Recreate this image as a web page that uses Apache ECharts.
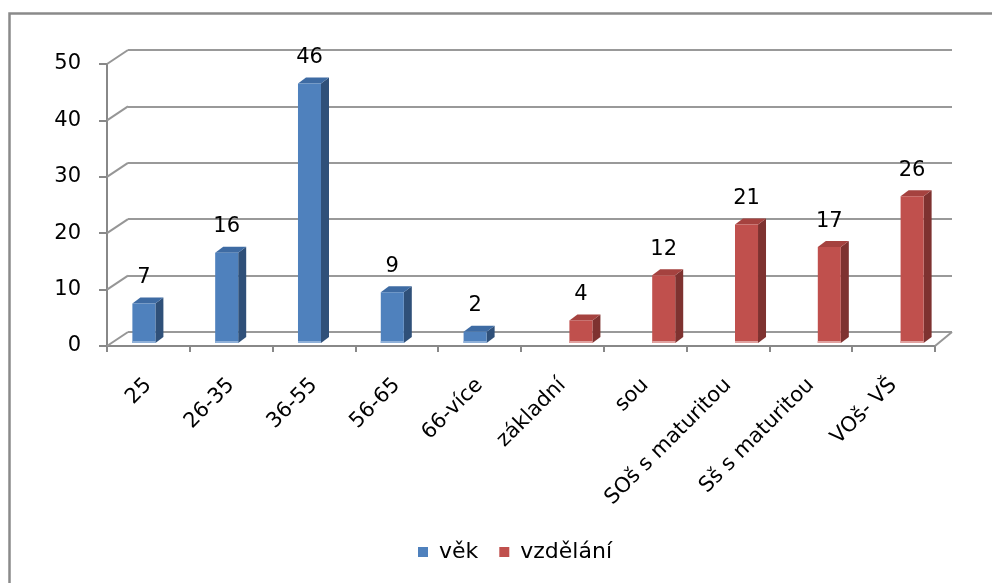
<!DOCTYPE html>
<html>
<head>
<meta charset="utf-8">
<script src="https://cdn.jsdelivr.net/npm/echarts@6/dist/echarts.min.js"></script>
<style>
  html, body { margin: 0; padding: 0; background: #fff; }
  #chart { width: 992px; height: 583px; }
</style>
</head>
<body>
<div id="chart"></div>
<script>
// Categories and values
const categories = ['25', '26-35', '36-55', '56-65', '66-více', 'základní', 'sou', 'SOš s maturitou', 'Sš s maturitou', 'VOš- VŠ'];
const vekValues = [7, 16, 46, 9, 2, null, null, null, null, null];
const vzdelaniValues = [null, null, null, null, null, 4, 12, 21, 17, 26];
const yTicks = [0, 10, 20, 30, 40, 50];
const seriesNames = ['věk', 'vzdělání'];

const FONT = '"DejaVu Sans", sans-serif';
const GRID_FRONT = { left: 107, right: 57, top: 64, bottom: 237 };
const GRID_BARS  = { left: 114, right: 50, top: 61, bottom: 240 };
const GRID_BACK  = { left: 128, right: 40, top: 50, bottom: 251 };
const DEPTH = { dx: 8, dy: -6 };          // column thickness
const BAR_RATIO = 0.278;                  // column width / category band

const palettes = [
  { front: '#4F81BD', top: '#3E6BA3', side: '#2F5079', edge: '#8FB0D8' },
  { front: '#C0504D', top: '#A5423F', side: '#7E3230', edge: '#E0A2A0' }
];

function makeColumnRenderer(slot) {
  const pal = palettes[slot];
  return function (params, api) {
    const v = api.value(1);
    if (v == null || isNaN(v)) return null;
    const cat = api.value(0);
    const band = api.size([1, 0])[0];
    const w = band * BAR_RATIO;
    const center = api.coord([cat, 0]);
    const topPt = api.coord([cat, v]);
    const xl = center[0] - w + slot * w;
    const xr = xl + w;
    const yb = center[1];
    const yt = topPt[1];
    const dx = DEPTH.dx, dy = DEPTH.dy;
    return {
      type: 'group',
      children: [
        { type: 'polygon', shape: { points: [[xr, yb], [xr + dx, yb + dy], [xr + dx, yt + dy], [xr, yt]] },
          style: { fill: pal.side } },
        { type: 'polygon', shape: { points: [[xl, yt], [xl + dx, yt + dy], [xr + dx, yt + dy], [xr, yt]] },
          style: { fill: pal.top } },
        { type: 'rect', shape: { x: xl, y: yt, width: w, height: yb - yt },
          style: { fill: pal.front } },
        { type: 'rect', shape: { x: xl, y: yb - 2, width: w, height: 2 },
          style: { fill: pal.edge } },
        { type: 'text', x: (xl + xr) / 2, y: yt - 26,
          style: { text: String(v), font: '21px ' + FONT, fill: '#000', align: 'center', verticalAlign: 'middle' } }
      ]
    };
  };
}

// Diagonal edges joining the front axis plane to the back wall
function renderWallEdges(params, api) {
  const cs = params.coordSys;
  const val = api.value(0);
  const y = api.coord([0, val])[1];
  const backDxL = GRID_BACK.left - GRID_FRONT.left;
  const backDy = (583 - GRID_BACK.bottom) - (583 - GRID_FRONT.bottom);
  const children = [
    { type: 'line', shape: { x1: cs.x, y1: y, x2: cs.x + backDxL, y2: y + backDy },
      style: { stroke: '#969696', lineWidth: 2 } }
  ];
  if (val === 0) {
    const backDxR = GRID_FRONT.right - GRID_BACK.right;
    const xr = cs.x + cs.width;
    children.push({ type: 'line', shape: { x1: xr, y1: y, x2: xr + backDxR, y2: y + backDy },
      style: { stroke: '#969696', lineWidth: 2 } });
  }
  return { type: 'group', children: children };
}

const chart = echarts.init(document.getElementById('chart'), null, { renderer: 'canvas' });

chart.setOption({
  animation: false,
  backgroundColor: '#fff',
  textStyle: { fontFamily: FONT },
  graphic: [{
    type: 'rect', z: 100, silent: true,
    shape: { x: 9.5, y: 13.5, width: 1100, height: 700 },
    style: { fill: 'none', stroke: '#8a8a8a', lineWidth: 2.5 }
  }],
  legend: {
    data: [{ name: seriesNames[0], icon: 'rect' }, { name: seriesNames[1], icon: 'rect' }],
    bottom: 20, left: 418, padding: 0,
    itemWidth: 10, itemHeight: 10, itemGap: 21,
    textStyle: { fontFamily: FONT, fontSize: 22, color: '#000', padding: [0, 0, 0, 6] }
  },
  grid: [
    Object.assign({ containLabel: false }, GRID_FRONT),
    Object.assign({ containLabel: false }, GRID_BARS),
    Object.assign({ containLabel: false }, GRID_BACK)
  ],
  xAxis: [
    { type: 'category', gridIndex: 0, data: categories,
      axisLine: { show: true, lineStyle: { color: '#888', width: 2 } },
      axisTick: { show: true, length: 6, lineStyle: { color: '#888', width: 2 } },
      axisLabel: { rotate: 45, margin: 36, fontSize: 21, fontFamily: FONT, color: '#000', interval: 0 },
      splitLine: { show: false } },
    { type: 'category', gridIndex: 1, data: categories, show: false },
    { type: 'category', gridIndex: 2, data: categories, show: false }
  ],
  yAxis: [
    { type: 'value', gridIndex: 0, min: 0, max: 50, interval: 10,
      axisLine: { show: true, lineStyle: { color: '#888', width: 2 } },
      axisTick: { show: true, length: 8, lineStyle: { color: '#888', width: 2 } },
      axisLabel: { margin: 26, fontSize: 21, fontFamily: FONT, color: '#000' },
      splitLine: { show: false } },
    { type: 'value', gridIndex: 1, min: 0, max: 50, interval: 10, show: false },
    { type: 'value', gridIndex: 2, min: 0, max: 50, interval: 10,
      axisLine: { show: false }, axisTick: { show: false }, axisLabel: { show: false },
      splitLine: { show: true, lineStyle: { color: '#999', width: 2 } } }
  ],
  series: [
    { name: 'walls', type: 'custom', xAxisIndex: 0, yAxisIndex: 0, silent: true,
      renderItem: renderWallEdges, data: yTicks.map(t => [t]), encode: { y: 0 }, z: 1 },
    { name: seriesNames[0], type: 'custom', xAxisIndex: 1, yAxisIndex: 1, z: 5,
      itemStyle: { color: palettes[0].front },
      renderItem: makeColumnRenderer(0),
      data: vekValues.map((v, i) => [i, v]), encode: { x: 0, y: 1 } },
    { name: seriesNames[1], type: 'custom', xAxisIndex: 1, yAxisIndex: 1, z: 5,
      itemStyle: { color: palettes[1].front },
      renderItem: makeColumnRenderer(1),
      data: vzdelaniValues.map((v, i) => [i, v]), encode: { x: 0, y: 1 } }
  ]
});
</script>
</body>
</html>
